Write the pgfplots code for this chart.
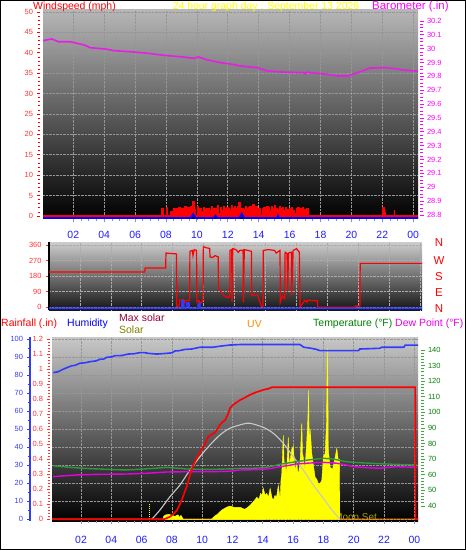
\documentclass[border=0pt]{standalone}
\usepackage{pgfplots}
\pgfplotsset{compat=1.18}
\usepackage{fontspec}
\setmainfont{Liberation Sans}

\definecolor{windred}{RGB}{255,0,0}
\definecolor{tickred}{RGB}{255,50,50}
\definecolor{baromag}{RGB}{255,0,255}
\definecolor{barolin}{RGB}{230,30,230}
\definecolor{xblue}{RGB}{30,30,255}
\definecolor{xtickc}{RGB}{140,140,220}
\definecolor{humblue}{RGB}{50,60,255}
\definecolor{maxsol}{RGB}{150,0,60}
\definecolor{soltxt}{RGB}{128,128,0}
\definecolor{moontxt}{RGB}{170,160,0}
\definecolor{uvor}{RGB}{255,140,0}
\definecolor{tmptxt}{RGB}{0,128,0}
\definecolor{tmpline}{RGB}{50,150,60}
\definecolor{tmptick}{RGB}{60,170,60}
\definecolor{dewmag}{RGB}{230,0,230}
\definecolor{gridc}{RGB}{150,150,150}
\definecolor{bgtopA}{RGB}{182,182,182}
\definecolor{bgtopB}{RGB}{205,205,205}
\definecolor{bgbotB}{RGB}{22,22,22}
\definecolor{bgtopC}{RGB}{200,200,200}
\definecolor{maxgray}{RGB}{200,200,200}
\definecolor{solyel}{RGB}{255,255,0}

\pgfplotsset{
 panelbase/.style={scale only axis, anchor=north west,
   axis x line*=bottom, axis y line*=left, axis line style={draw=none},
   y tick style={draw=none}, yticklabels={,,,,,,,,,,,,,,,,},
   xtick={2,4,...,24}, xticklabels={02,04,06,08,10,12,14,16,18,20,22,00},
   minor x tick num=3, tick align=outside, major tick length=3bp, minor tick length=2bp,
   x tick style={draw=xtickc, line width=0.8bp},
   grid=major, major grid style={draw=gridc, densely dotted, line width=0.7bp},
   xticklabel style={font=\fontsize{10.5}{12}\selectfont, text=xblue},
   /pgf/number format/assume math mode=true},
 hidden/.style={scale only axis, anchor=north west, hide axis},
 yl/.style={scale only axis, anchor=north west, width=1bp, xmin=0, xmax=1,
   hide x axis, axis y line*=left, tick align=outside,
   major tick length=3.5bp, minor tick length=2.5bp,
   yticklabel style={font=\fontsize{7.5}{8}\selectfont},
   /pgf/number format/assume math mode=true},
 yr/.style={yl, anchor=north east, axis y line*=right},
}

\begin{document}
\begin{tikzpicture}[x=1bp,y=1bp]
\path[use as bounding box] (0,0) rectangle (466,-550);
\fill[white] (0,0) rectangle (466,-550);

%================ PANEL 1: wind speed + barometer =================
\begin{axis}[panelbase, at={(43bp,-10bp)}, width=375bp, height=209bp,
  xmin=0.04, xmax=24.31, ymin=-0.74, ymax=50.5, ytick={0,5,...,50},
  axis background/.style={top color=bgtopA, bottom color=black},
  xticklabel style={yshift=-6bp}]
\addplot[const plot, draw=windred, fill=windred, line width=0.5bp] coordinates {
(0.04,0) (7.6,0) (7.7,2.0) (7.8,0) (8.0,2.1) (8.1,0) (8.3,1.2) (8.4,0) (8.5,1.8)
(8.6,2.0) (8.7,1.4) (8.8,2.2) (8.9,1.0) (9.0,2.0) (9.1,1.7) (9.2,2.3) (9.3,1.9)
(9.4,2.1) (9.5,0.4) (9.6,2.4) (9.7,3.5) (9.8,1.6) (9.9,0.3) (10.0,2.3) (10.1,1.8)
(10.2,2.0) (10.3,1.2) (10.4,2.2) (10.5,1.9) (10.6,0.5) (10.7,2.0) (10.8,1.5)
(10.9,2.3) (11.0,1.8) (11.1,0.2) (11.2,1.9) (11.3,2.7) (11.4,0.6) (11.5,2.1)
(11.6,1.4) (11.7,2.4) (11.8,1.8) (11.9,2.2) (12.0,2.0) (12.1,1.5) (12.2,2.6)
(12.3,1.8) (12.4,2.3) (12.5,1.9) (12.6,2.4) (12.7,3.3) (12.8,1.4) (12.9,2.0)
(13.0,1.7) (13.1,2.5) (13.2,1.8) (13.3,2.2) (13.4,2.5) (13.5,1.6) (13.6,2.8)
(13.7,1.9) (13.8,2.3) (13.9,1.5) (14.0,2.0) (14.1,0.4) (14.2,1.8) (14.3,2.2)
(14.4,1.7) (14.5,2.4) (14.6,2.1) (14.7,1.5) (14.8,2.3) (14.9,1.8) (15.0,2.6)
(15.1,2.0) (15.2,1.6) (15.3,2.3) (15.4,1.9) (15.5,2.1) (15.6,1.3) (15.7,2.2)
(15.8,1.6) (15.9,0.3) (16.0,1.8) (16.1,2.2) (16.2,1.5) (16.3,0.6) (16.4,1.9)
(16.5,2.1) (16.6,1.4) (16.7,1.8) (16.8,2.2) (16.9,1.7) (17.0,0.5) (17.1,1.9)
(17.2,0) (21.95,0) (22.0,2.1) (22.1,1.0) (22.2,0) (22.7,0) (22.75,1.3) (22.8,0) (24.31,0)
} \closedcycle;
\addplot[windred, line width=1bp] coordinates {(0.04,0) (24.31,0)};
\addplot[blue, line width=2bp] coordinates {
(0.04,-0.5) (9.6,-0.5) (9.76,0.4) (9.9,-0.5) (11.1,-0.5) (11.2,0) (11.3,-0.5)
(12.75,-0.5) (12.9,0.5) (13.05,-0.5) (15.2,-0.5) (15.25,0) (15.3,-0.5) (24.31,-0.5)};
\end{axis}

\begin{axis}[hidden, at={(43bp,-10bp)}, width=375bp, height=209bp,
  xmin=0.04, xmax=24.31, ymin=28.771, ymax=30.279]
\addplot[barolin, line width=1.6bp] coordinates {
(0.04,30.058) (0.6,30.07) (1.05,30.05) (1.8,30.05) (2.7,30.027) (3.1,30.007)
(4.2,29.996) (4.6,29.986) (5.9,29.976) (6.8,29.967) (7.85,29.952) (9.1,29.94)
(9.8,29.93) (10.1,29.94) (10.65,29.92) (11.5,29.90) (12.4,29.885) (12.8,29.875)
(13.9,29.863) (14.55,29.839) (15.4,29.832) (16.9,29.827) (17.0,29.818) (17.1,29.83)
(18.6,29.813) (19.07,29.803) (19.8,29.803) (20.4,29.827) (21.2,29.86) (22.3,29.863)
(23.4,29.846) (24.31,29.837)};
\end{axis}

% wind speed y axis (left)
\begin{axis}[yl, at={(40bp,-10bp)}, height=209bp, ymin=-0.74, ymax=50.5,
  ytick={0,5,...,50}, minor y tick num=4, y axis line style={draw=none},
  y tick style={draw=windred, line width=0.8bp}, yticklabel style={text=tickred}]
\end{axis}
% barometer y axis (right)
\begin{axis}[yr, at={(420bp,-10bp)}, height=209bp, ymin=28.771, ymax=30.279,
  ytick={28.8,28.9,29,29.1,29.2,29.3,29.4,29.5,29.6,29.7,29.8,29.9,30,30.1,30.2},
  yticklabels={28.8,28.9,29,29.1,29.2,29.3,29.4,29.5,29.6,29.7,29.8,29.9,30,30.1,30.2},
  minor y tick num=3, y axis line style={draw=none},
  y tick style={draw=baromag, line width=0.8bp}, yticklabel style={text=baromag}]
\end{axis}

%================ PANEL 2: wind direction =================
\begin{axis}[scale only axis, anchor=north west, at={(49bp,-242bp)}, width=373bp, height=68bp,
  xmin=0, xmax=24.14, ymin=-15.7, ymax=379,
  axis x line*=bottom, axis y line*=left,
  x axis line style={draw=none}, xtick={2,4,...,24}, xticklabels={,,,,,,,,,,,,}, x tick style={draw=none},
  y axis line style={draw=black, line width=2bp},
  ytick={0,90,180,270,360}, tick align=outside, major tick length=3bp,
  y tick style={draw=tickred, line width=0.8bp},
  yticklabel style={font=\fontsize{7.5}{8}\selectfont, text=tickred, xshift=-1bp},
  /pgf/number format/assume math mode=true,
  grid=major, major grid style={draw=gridc!80, densely dotted, line width=0.6bp},
  axis background/.style={top color=bgtopB, bottom color=bgbotB}]
\addplot[windred, line width=1.2bp] coordinates {
(0,205) (6.2,205) (6.22,228) (7.55,228) (7.57,315) (7.9,312) (8.25,310) (8.27,5)
(8.42,8) (8.45,42) (8.7,45) (8.73,20) (8.8,38) (9.1,40) (9.12,325) (9.28,330)
(9.32,300) (9.4,335) (9.55,330) (9.57,30) (9.7,40) (9.8,22) (9.97,40) (9.99,352)
(10.2,345) (10.4,342) (10.42,292) (10.6,290) (10.75,300) (10.95,292) (10.97,104)
(11.1,95) (11.3,70) (11.5,58) (11.7,58) (11.72,330) (11.82,335) (11.85,30)
(11.89,340) (12.1,335) (12.25,318) (12.35,330) (12.56,332) (12.58,30) (12.64,335)
(13.1,325) (13.12,70) (13.5,72) (13.75,5) (13.85,5) (13.87,330) (14.2,335)
(14.6,330) (14.7,315) (14.95,330) (14.97,30) (15.1,65) (15.26,50) (15.28,320)
(15.4,312) (15.45,100) (15.5,315) (15.69,320) (15.71,70) (15.8,330) (16.02,340)
(16.2,320) (16.25,5) (16.4,20) (16.55,40) (16.7,30) (16.75,42) (17.0,40) (17.37,38)
(17.39,0) (19.8,0) (19.82,7) (20.12,7) (20.14,255) (24.14,255)};
\addplot[humblue, line width=1.8bp] coordinates {
(0,-6) (8.6,-6) (8.62,40) (8.7,40) (8.72,-6) (8.9,-6) (8.92,25) (9.05,25) (9.07,-6)
(9.65,-6) (9.67,22) (9.75,22) (9.77,-6) (24.14,-6)};
\end{axis}

%================ PANEL 3 =================
% main axis in pixel-height units (solar, max solar, UV)
\begin{axis}[panelbase, at={(52bp,-337bp)}, width=366bp, height=184bp,
  xmin=0.086, xmax=24.24, ymin=-1.7, ymax=182.3, ytick={0,18,...,180},
  axis background/.style={top color=bgtopC, bottom color=black},
  xticklabel style={yshift=-9bp}]
\node[anchor=west, text=moontxt, font=\fontsize{10}{11}\selectfont, inner sep=0pt] at (axis cs:18.7,2.5) {Moon Set};
\addplot[uvor, line width=1bp] coordinates {
(0.086,0.3) (13.8,0.3) (13.93,5.3) (14.2,3) (14.48,4.3) (14.7,3.5) (14.9,6.6) (15.14,3.3)
(15.35,12) (15.58,9.3) (15.9,7.6) (16.24,6) (16.46,2.6) (16.79,4.3) (17.0,3.6)
(17.12,0.3) (24.24,0.3)};
\addplot[solyel, densely dotted, line width=1bp] coordinates {(6.55,0) (6.55,15)};
\addplot[draw=solyel, fill=solyel, line width=0.4bp] coordinates {
(7.4,0) (7.45,3) (7.6,4.5) (7.8,5) (8.0,4) (8.2,3) (8.4,4.5) (8.5,2) (8.6,4) (8.75,0)
(10.6,0) (10.8,3) (11.0,5) (11.29,9.3) (11.6,12) (11.83,13.3) (12.1,12) (12.5,12)
(12.8,10) (13.0,12) (13.16,14) (13.4,18) (13.6,22) (13.75,20) (13.85,26) (13.95,24)
(14.03,31) (14.15,24) (14.26,26) (14.37,22) (14.48,31) (14.6,22) (14.69,19) (14.8,24)
(14.9,22) (15.02,34) (15.14,21) (15.2,40) (15.25,46) (15.35,84) (15.42,50) (15.47,56)
(15.55,45) (15.68,82) (15.75,52) (15.8,59) (15.9,70) (16.01,73) (16.13,49) (16.24,56)
(16.34,44) (16.46,59) (16.57,96) (16.62,66) (16.67,62) (16.78,50) (16.9,79) (16.97,100)
(17.02,129) (17.07,66) (17.12,90) (17.17,80) (17.23,66) (17.33,55) (17.45,42)
(17.56,40) (17.66,36) (17.78,36) (17.89,39) (17.99,62) (18.11,66) (18.2,96)
(18.24,150) (18.26,171) (18.29,140) (18.32,70) (18.44,52) (18.6,50) (18.77,62)
(18.88,71) (18.98,59) (19.07,60) (19.08,0)} \closedcycle;
\addplot[maxgray, line width=1.1bp, smooth] coordinates {
(6.67,0) (7.21,9.3) (7.87,22.6) (8.53,34.3) (9.19,49.3) (9.85,62.6) (10.51,74.3)
(11.17,84.3) (11.82,91) (12.71,95.3) (13.16,96) (14.03,92) (14.69,86) (15.35,76)
(16.01,62.6) (16.67,49.3) (17.33,34.3) (17.99,21) (18.65,7.6) (19.1,0)};
\end{axis}

% temperature / dew point
\begin{axis}[hidden, at={(52bp,-337bp)}, width=366bp, height=184bp,
  xmin=0.086, xmax=24.24, ymin=30.38, ymax=148.33]
\addplot[tmpline, line width=1.4bp] coordinates {
(0.17,65.8) (1.0,65.0) (1.72,64.5) (2.5,64.0) (3.25,63.7) (4.2,63.3) (5.0,63.1)
(6.1,63.7) (6.9,64.2) (7.66,64.8) (8.3,64.3) (8.98,63.7) (10.0,63.5) (10.7,63.5)
(11.83,63.8) (12.5,64.1) (13.3,64.2) (14.03,64.5) (14.6,65.5) (15.1,66.7) (15.7,67.6)
(16.2,68.4) (17.0,69.5) (18.0,70.6) (18.65,70.1) (19.5,68.4) (20.3,67.8) (21.1,67.4)
(22.0,67.0) (22.8,66.7) (24.2,66.3)};
\addplot[dewmag, line width=1.4bp] coordinates {
(0.17,58.8) (0.8,59.3) (1.72,59.9) (3.04,60.3) (5.0,60.5) (6.34,61.0) (7.66,61.8)
(9.19,62.0) (10.7,62.0) (11.83,62.3) (12.5,63.1) (13.2,63.2) (14.03,63.5) (14.6,64.2)
(15.1,65.2) (15.7,66.0) (16.2,66.9) (17.0,67.5) (18.0,68.0) (18.9,67.4) (19.5,66.3)
(20.0,65.2) (20.8,64.6) (21.7,64.2) (22.3,64.8) (22.8,65.2) (23.5,65.0) (24.2,64.8)};
\end{axis}

% humidity
\begin{axis}[hidden, at={(52bp,-337bp)}, width=366bp, height=184bp,
  xmin=0.086, xmax=24.24, ymin=-0.944, ymax=101.28]
\addplot[humblue, line width=1.6bp] coordinates {
(0.17,81.5) (0.5,82) (0.73,83) (1.0,84) (1.39,85.3) (1.6,85.5) (1.93,86.7) (2.3,87)
(2.6,87.6) (3.0,88) (3.25,88.9) (3.5,89) (3.7,90) (4.0,90.2) (4.24,90.9) (4.7,91)
(5.1,91.8) (5.5,92) (5.9,92.6) (6.2,92.6) (6.44,92.2) (7.0,91.8) (7.66,92.2) (8.0,92.5)
(8.2,93.5) (8.5,93.7) (8.86,94.4) (9.3,94.6) (9.86,95.6) (10.7,95.6) (11.2,96.2)
(11.8,96.8) (12.5,97.1) (16.45,97.1) (16.7,95.6) (17.2,95) (17.5,94.5) (17.78,93.7)
(20.3,93.7) (20.4,94.6) (21.7,95) (21.85,95.6) (23.3,95.6) (23.4,96.8) (24.24,96.8)};
\end{axis}

% rainfall
\begin{axis}[hidden, at={(52bp,-337bp)}, width=366bp, height=184bp,
  xmin=0.086, xmax=24.24, ymin=-0.0113, ymax=1.2153]
\addplot[windred, line width=1.7bp] coordinates {
(0.086,0) (7.43,0) (7.6,0.005) (7.87,0.017) (8.1,0.035) (8.32,0.06) (8.5,0.095)
(8.65,0.13) (8.8,0.17) (8.98,0.22) (9.15,0.28) (9.3,0.33) (9.45,0.37) (9.64,0.41)
(9.85,0.45) (10.07,0.48) (10.25,0.52) (10.4,0.55) (10.6,0.565) (10.85,0.58) (11.0,0.6)
(11.17,0.63) (11.35,0.65) (11.5,0.66) (11.7,0.7) (11.83,0.74) (12.0,0.76) (12.2,0.775)
(12.5,0.795) (12.8,0.81) (13.15,0.83) (13.5,0.845) (13.8,0.855) (14.1,0.865)
(14.36,0.87) (14.6,0.88) (24.05,0.88) (24.07,0) (24.24,0)};
\end{axis}

% humidity y axis
\begin{axis}[yl, at={(30bp,-337bp)}, height=184bp, ymin=-0.944, ymax=101.28,
  ytick={0,10,...,100}, minor y tick num=1,
  y axis line style={draw=humblue, line width=2bp},
  y tick style={draw=humblue, line width=0.8bp}, yticklabel style={text=humblue}]
\end{axis}
% rainfall y axis
\begin{axis}[yl, at={(50bp,-337bp)}, height=184bp, ymin=-0.0113, ymax=1.2153,
  ytick={0,0.1,0.2,0.3,0.4,0.5,0.6,0.7,0.8,0.9,1,1.1,1.2},
  yticklabels={0,0.1,0.2,0.3,0.4,0.5,0.6,0.7,0.8,0.9,1,1.1,1.2},
  minor y tick num=4, y axis line style={draw=none},
  y tick style={draw=tickred, line width=0.8bp}, yticklabel style={text=tickred}]
\end{axis}
% temperature y axis
\begin{axis}[yr, at={(421bp,-337bp)}, height=184bp, ymin=30.38, ymax=148.33,
  ytick={40,50,...,140}, minor y tick num=4, y axis line style={draw=none},
  y tick style={draw=tmptick, line width=0.8bp}, yticklabel style={text=tmptxt}]
\end{axis}

%================ LABELS =================
\begin{scope}[every node/.style={inner sep=0pt, font=\fontsize{10.5}{12}\selectfont}]
\node[anchor=west, text=windred] at (33,-6.5) {Windspeed (mph)};
\node[text=solyel] at (266,-6.5) {24 hour graph day : September 13 2026};
\node[anchor=west, text=baromag, font=\fontsize{11.5}{12}\selectfont] at (372,-6.5) {Barometer (.in)};
\node[anchor=west, text=windred] at (1,-324) {Rainfall (.in)};
\node[anchor=west, text=blue] at (67,-324) {Humidity};
\node[anchor=west, text=maxsol] at (119,-317.5) {Max solar};
\node[anchor=west, text=soltxt] at (119,-329.5) {Solar};
\node[text=uvor] at (254.5,-324) {UV};
\node[anchor=west, text=tmptxt] at (313,-324) {Temperature (°F)};
\node[anchor=west, text=dewmag] at (395,-324) {Dew Point (°F)};
\end{scope}
\begin{scope}[every node/.style={inner sep=0pt, text=windred, font=\fontsize{11.5}{12}\selectfont}]
\node at (439,-243) {N};
\node at (439,-260.5) {W};
\node at (439,-276.5) {S};
\node at (439,-292.5) {E};
\node at (439,-308.5) {N};
\end{scope}

\draw[black, line width=1.2bp] (0.6,-0.6) rectangle (465.4,-549.4);
\end{tikzpicture}
\end{document}
